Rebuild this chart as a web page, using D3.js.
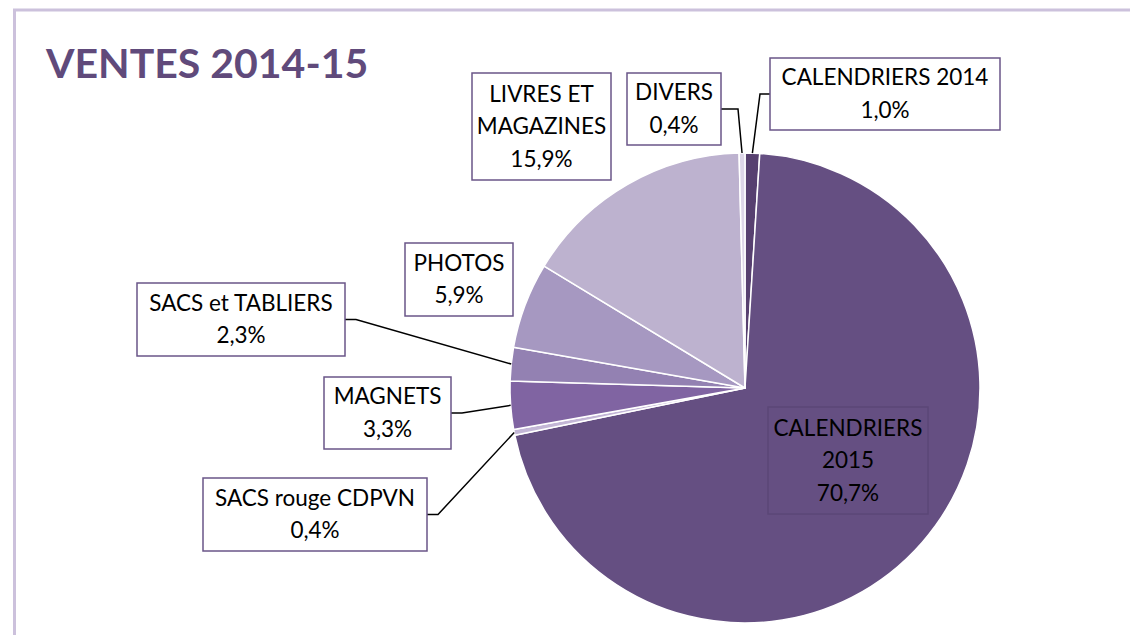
<!DOCTYPE html>
<html>
<head>
<meta charset="utf-8">
<script src="https://cdn.jsdelivr.net/npm/d3@7"></script>
<style>
  html, body { margin: 0; padding: 0; background: #fff; }
  svg { display: block; }
</style>
</head>
<body>
<div id="chart"></div>
<script>
// sales share, clockwise from 12 o'clock
const categories = ['CALENDRIERS 2014', 'CALENDRIERS 2015', 'SACS rouge CDPVN', 'MAGNETS',
                    'SACS et TABLIERS', 'PHOTOS', 'LIVRES ET MAGAZINES', 'DIVERS'];
const values = [1.0, 70.7, 0.4, 3.3, 2.3, 5.9, 15.9, 0.4];
const labelLines = [
  ['CALENDRIERS 2014', '1,0%'],
  ['CALENDRIERS', '2015', '70,7%'],
  ['SACS rouge CDPVN', '0,4%'],
  ['MAGNETS', '3,3%'],
  ['SACS et TABLIERS', '2,3%'],
  ['PHOTOS', '5,9%'],
  ['LIVRES ET', 'MAGAZINES', '15,9%'],
  ['DIVERS', '0,4%']
];
const sliceColors = ['#574070', '#654f82', '#c3b6d6', '#8064a2', '#9381b2', '#a698c1', '#bdb2cf', '#ddd6e8'];

// label box layout: x, y, w, h, leader side
const boxes = [
  { x: 770, y: 58, w: 230, h: 72, side: 'left' },
  { x: 768, y: 407, w: 160, h: 107, side: null, inside: true },
  { x: 203, y: 478, w: 224, h: 73, side: 'right' },
  { x: 324, y: 377, w: 127, h: 72, side: 'right' },
  { x: 137, y: 283, w: 208, h: 73, side: 'right' },
  { x: 405, y: 243, w: 108, h: 73, side: null },
  { x: 472, y: 73, w: 139, h: 107, side: null },
  { x: 627, y: 73, w: 94, h: 72, side: 'right' }
];

const W = 1130, H = 635;
const cx = 745, cy = 388, r = 235;

const svg = d3.select('#chart').append('svg')
  .attr('width', W).attr('height', H);

// frame
svg.append('line').attr('x1', 13).attr('y1', 10).attr('x2', W).attr('y2', 10)
  .attr('stroke', '#ccc1dc').attr('stroke-width', 3);
svg.append('line').attr('x1', 14.5).attr('y1', 9).attr('x2', 14.5).attr('y2', H)
  .attr('stroke', '#ccc1dc').attr('stroke-width', 3);

svg.append('text')
  .attr('x', 46).attr('y', 78)
  .attr('font-family', 'Lato, sans-serif')
  .attr('font-weight', 'bold')
  .attr('font-size', 41)
  .attr('fill', '#604a7b')
  .text('VENTES 2014-15');

const data = categories.map((c, i) => ({ name: c, value: values[i], lines: labelLines[i], color: sliceColors[i], box: boxes[i] }));

const pie = d3.pie().sort(null).value(d => d.value);
const arcs = pie(data);
const arc = d3.arc().innerRadius(0).outerRadius(r);

const g = svg.append('g').attr('transform', `translate(${cx},${cy})`);
g.selectAll('path')
  .data(arcs)
  .enter()
  .append('path')
  .attr('d', arc)
  .attr('fill', d => d.data.color)
  .attr('stroke', '#fff')
  .attr('stroke-width', 1.5)
  .attr('stroke-linejoin', 'round');

// leader lines
arcs.forEach(a => {
  const b = a.data.box;
  if (!b.side) return;
  const mid = (a.startAngle + a.endAngle) / 2;
  const px = cx + r * Math.sin(mid);
  const py = cy - r * Math.cos(mid);
  const by = b.y + b.h / 2;
  let bx, kx;
  if (b.side === 'right') { bx = b.x + b.w; kx = bx + (a.data.name === 'DIVERS' ? 17 : 11); }
  else { bx = b.x; kx = bx - 10; }
  svg.append('polyline')
    .attr('points', `${bx},${by} ${kx},${by} ${px},${py}`)
    .attr('fill', 'none')
    .attr('stroke', '#000')
    .attr('stroke-width', 1.5);
});

// label boxes
const labels = svg.selectAll('g.lbl')
  .data(data)
  .enter()
  .append('g')
  .attr('class', 'lbl');

labels.append('rect')
  .attr('x', d => d.box.x).attr('y', d => d.box.y)
  .attr('width', d => d.box.w).attr('height', d => d.box.h)
  .attr('fill', d => d.box.inside ? 'none' : '#fff')
  .attr('stroke', d => d.box.inside ? '#5b4777' : '#6a5588')
  .attr('stroke-width', 1.5);

labels.each(function(d) {
  const t = d3.select(this).append('text')
    .attr('font-family', 'Lato, sans-serif')
    .attr('font-size', 22.5)
    .attr('fill', '#000')
    .attr('text-anchor', 'middle');
  const n = d.lines.length;
  const lh = 32.5;
  const top = d.box.y + d.box.h / 2 - (n - 1) * lh / 2 + 7.5;
  d.lines.forEach((s, i) => {
    t.append('tspan')
      .attr('x', d.box.x + d.box.w / 2)
      .attr('y', top + i * lh)
      .text(s);
  });
});
</script>
</body>
</html>
